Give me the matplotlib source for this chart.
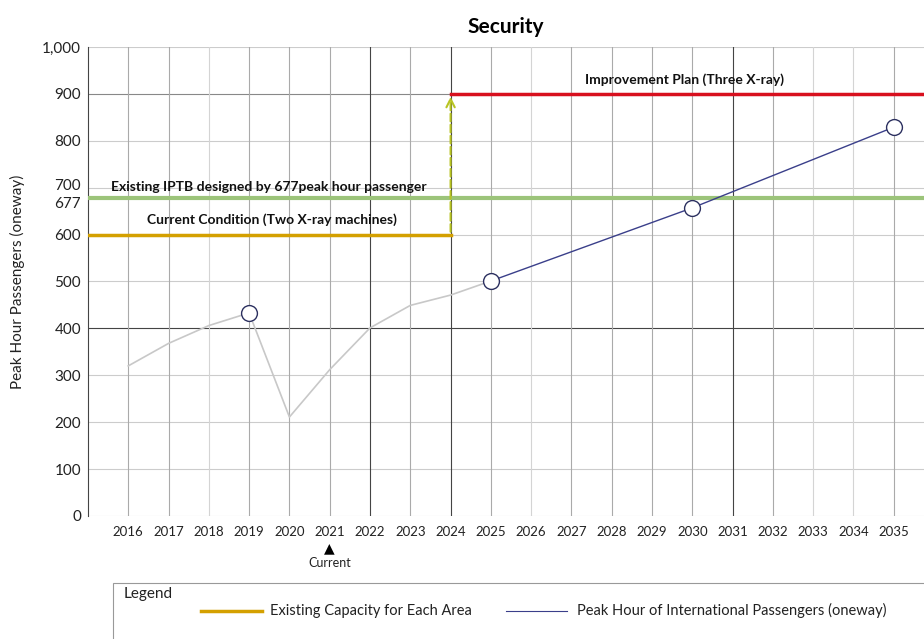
import matplotlib.pyplot as plt
import matplotlib.transforms as mtransforms
from matplotlib.patches import Rectangle
from matplotlib.lines import Line2D

plt.rcParams['font.family'] = ['Lato', 'DejaVu Sans']

years = list(range(2016, 2036))
hist_years = [2016, 2017, 2018, 2019, 2020, 2021, 2022, 2023, 2024, 2025]
hist_pax = [320, 368, 406, 433, 211, 312, 401, 449, 471, 501]
fcst_years = [2025, 2030, 2035]
fcst_pax = [501, 657, 829]
marker_years = [2019, 2025, 2030, 2035]
marker_pax = [433, 501, 657, 829]

current_cap = 600
design_cap = 677
improved_cap = 900
change_year = 2024

yticks = [0, 100, 200, 300, 400, 500, 600, 677, 700, 800, 900, 1000]
dark_vlines = [2022, 2024, 2031]
light_vlines = [2018, 2026, 2033, 2034]

fig = plt.figure(figsize=(9.24, 6.39), dpi=100)
ax = fig.add_axes([0.0952, 0.1925, 0.9048, 0.734])
ax.set_xlim(2015, 2035.75)
ax.set_ylim(0, 1000)

# grid
for y in yticks:
    if y == 677:
        continue
    c = '#444444' if y == 400 else ('#888888' if y == 900 else '#cccccc')
    ax.axhline(y, color=c, lw=0.8, zorder=1)
for yr in years:
    if yr in dark_vlines:
        c = '#444444'
    elif yr in light_vlines:
        c = '#d4d4d4'
    else:
        c = '#aaaaaa'
    ax.axvline(yr, color=c, lw=0.8, zorder=1)

for s in ['top', 'right', 'bottom']:
    ax.spines[s].set_visible(False)
ax.spines['left'].set_color('#444444')

# capacity lines
ax.plot([2015, change_year], [current_cap, current_cap], color='#d4a000', lw=2.5, zorder=3)
ax.axhline(design_cap, color='#9cc47a', lw=3, zorder=3)
ax.plot([change_year, 2035.75], [improved_cap, improved_cap], color='#d8101e', lw=2.5, zorder=3)
ax.annotate('', xy=(change_year, improved_cap), xytext=(change_year, current_cap),
            arrowprops=dict(arrowstyle='->', color='#b8c422', lw=1.5, linestyle='--',
                            mutation_scale=15), zorder=4)

# passenger lines
ax.plot(hist_years, hist_pax, color='#c8c8c8', lw=1.2, zorder=5)
ax.plot(fcst_years, fcst_pax, color='#3a3f8a', lw=1, zorder=5)
ax.scatter(marker_years, marker_pax, s=130, facecolor='white', edgecolor='#2c3060',
           linewidth=1, zorder=6)

# labels on lines
ax.text(2029.8, 930, 'Improvement Plan (Three X-ray)', ha='center', va='center',
        fontsize=10, fontweight='bold', color='#111111')
ax.text(2019.5, 701, 'Existing IPTB designed by 677peak hour passenger', ha='center',
        va='center', fontsize=10, fontweight='bold', color='#111111')
ax.text(2019.57, 631, 'Current Condition (Two X-ray machines)', ha='center',
        va='center', fontsize=10, fontweight='bold', color='#111111')

ax.set_xticks(years)
ax.set_xticklabels([str(y) for y in years], fontsize=9.5, color='#222222')
ax.set_yticks(yticks)
ax.set_yticklabels([f'{y:,}' for y in yticks], fontsize=11, color='#222222')
ax.tick_params(axis='both', length=0, pad=7)
ax.tick_params(axis='y', pad=5)
ax.set_ylabel('Peak Hour Passengers (oneway)', fontsize=11, color='#222222', labelpad=12)

# spread the 677 / 700 labels apart a little
for lab, val in zip(ax.get_yticklabels(), yticks):
    if val == 677:
        lab.set_transform(lab.get_transform() +
                          mtransforms.ScaledTranslation(0, -3 / 72, fig.dpi_scale_trans))
    elif val == 700:
        lab.set_transform(lab.get_transform() +
                          mtransforms.ScaledTranslation(0, 2 / 72, fig.dpi_scale_trans))

ax.set_title('Security', fontsize=15, fontweight='bold', pad=10)

# current marker
ax.text(2021, -68, '\u25B2', ha='center', va='center', fontsize=10, family='DejaVu Sans',
        clip_on=False)
ax.text(2021, -101, 'Current', ha='center', va='center', fontsize=9, color='#222222',
        clip_on=False)

# legend box
fig.patches.append(Rectangle((0.1223, -0.01), 0.9, 0.0876 + 0.01, transform=fig.transFigure,
                             facecolor='white', edgecolor='#999999', lw=0.8))
fig.text(0.134, 0.07, 'Legend', fontsize=11, va='center', color='#222222')
fig.lines.append(Line2D([0.218, 0.284], [0.044, 0.044], transform=fig.transFigure,
                        color='#d4a000', lw=2.5))
fig.text(0.292, 0.044, 'Existing Capacity for Each Area', fontsize=10.5, va='center',
         color='#222222')
fig.lines.append(Line2D([0.548, 0.614], [0.044, 0.044], transform=fig.transFigure,
                        color='#3a3f8a', lw=0.8))
fig.text(0.624, 0.044, 'Peak Hour of International Passengers (oneway)', fontsize=10.5,
         va='center', color='#222222')

fig.savefig('out.png', dpi=100)
